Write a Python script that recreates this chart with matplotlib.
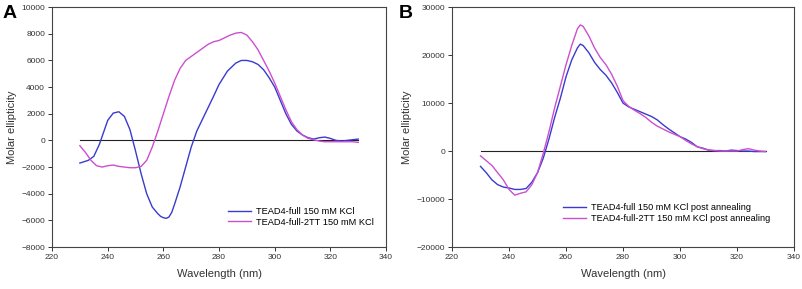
import matplotlib.pyplot as plt

plt.rcParams['font.family'] = ['Liberation Sans', 'DejaVu Sans']

# panel A data (wavelength nm, molar ellipticity)
wl_a = [230, 233, 235, 237, 240, 242, 244, 246, 248, 250, 252, 254, 256, 258, 259, 260, 261,
        262, 263, 264, 266, 268, 270, 272, 275, 278, 280, 283, 286, 288, 290, 292, 294, 296,
        298, 300, 302, 304, 306, 308, 310, 312, 314, 316, 318, 320, 322, 324, 326, 328, 330]
full_a = [-1700, -1500, -1200, -300, 1500, 2050, 2150, 1800, 800, -800, -2500, -4000, -5000,
          -5500, -5700, -5800, -5850, -5750, -5400, -4800, -3500, -2000, -500, 700, 2000, 3300,
          4200, 5200, 5800, 6000, 6000, 5900, 5700, 5300, 4700, 4000, 3000, 2000, 1200, 700,
          400, 200, 100, 200, 250, 150, 0, -50, 0, 50, 100]

wl_a2 = [230, 232, 234, 236, 238, 240, 242, 244, 246, 248, 250, 252, 254, 256, 258, 260, 262,
         264, 266, 268, 270, 272, 274, 276, 278, 280, 282, 284, 286, 288, 290, 292, 294, 296,
         298, 300, 302, 304, 306, 308, 310, 312, 314, 316, 318, 320, 322, 324, 326, 328, 330]
tt_a = [-400, -900, -1500, -1900, -2000, -1900, -1850, -1950, -2000, -2050, -2050, -1950,
        -1500, -500, 700, 2000, 3300, 4500, 5400, 6000, 6300, 6600, 6900, 7200, 7400, 7500,
        7700, 7900, 8050, 8100, 7900, 7400, 6800, 6000, 5200, 4300, 3300, 2300, 1400, 800,
        400, 150, 50, -50, -100, -100, -100, -100, -100, -100, -150]

# panel B data
wl_b = [230, 232, 234, 236, 238, 240, 242, 244, 246, 248, 250, 252, 254, 256, 258, 260, 262,
        264, 265, 266, 268, 270, 272, 274, 276, 278, 280, 282, 284, 286, 288, 290, 292, 294,
        296, 298, 300, 302, 304, 306, 308, 310, 312, 314, 316, 318, 320, 322, 324, 326, 328, 330]
full_b = [-3200, -4500, -6000, -7000, -7500, -7700, -8000, -8000, -7800, -6500, -4500, -1500,
          2500, 7000, 11000, 15500, 19000, 21500, 22300, 22000, 20500, 18500, 17000, 15800,
          14200, 12200, 10000, 9200, 8700, 8200, 7700, 7200, 6500, 5500, 4600, 3800, 3000,
          2500, 1800, 900, 600, 200, 100, 100, 0, 200, 100, 0, 0, -100, -100, -100]
tt_b = [-1000, -2000, -3000, -4500, -6000, -8000, -9200, -8800, -8500, -7000, -4500, -500,
        4000, 9000, 13500, 18000, 22000, 25500, 26300, 26000, 24000, 21500, 19500, 18000,
        16000, 13500, 10500, 9300, 8500, 7800, 7000, 6000, 5200, 4600, 4000, 3500, 3000,
        2200, 1500, 900, 500, 200, 100, 0, 0, 0, 0, 300, 500, 200, 0, -100]

blue = '#3a3ad0'
pink = '#cc4fd0'

fig = plt.figure(figsize=(8.03, 2.89), dpi=100)
ax1 = fig.add_axes([0.0648, 0.1453, 0.416, 0.830])
ax2 = fig.add_axes([0.5629, 0.1453, 0.426, 0.830])

def style(ax, ylim, yticks):
    ax.set_xlim(220, 340)
    ax.set_xticks(range(220, 341, 20))
    ax.set_ylim(*ylim)
    ax.set_yticks(yticks)
    ax.tick_params(labelsize=6, length=3, width=0.7, direction='out', pad=2, colors='#333333')
    for s in ax.spines.values():
        s.set_color('#444444')
        s.set_linewidth(0.8)
    ax.set_xlabel('Wavelength (nm)', fontsize=8, color='#333333', labelpad=6)
    ax.set_ylabel('Molar ellipticity', fontsize=8, color='#333333', labelpad=3)
    ax.plot([230, 330], [0, 0], color='#222222', lw=0.8)

style(ax1, (-8000, 10000), range(-8000, 10001, 2000))
ax1.plot(wl_a, full_a, color=blue, lw=1.0, label='TEAD4-full 150 mM KCl')
ax1.plot(wl_a2, tt_a, color=pink, lw=1.0, label='TEAD4-full-2TT 150 mM KCl')
ax1.legend(loc='lower right', bbox_to_anchor=(0.99, 0.05), fontsize=6.7, frameon=False,
           handlelength=2.5, handletextpad=0.6, labelspacing=0.2)

style(ax2, (-20000, 30000), range(-20000, 30001, 10000))
ax2.plot(wl_b, full_b, color=blue, lw=1.0, label='TEAD4-full 150 mM KCl post annealing')
ax2.plot(wl_b, tt_b, color=pink, lw=1.0, label='TEAD4-full-2TT 150 mM KCl post annealing')
ax2.legend(loc='lower left', bbox_to_anchor=(0.3, 0.065), fontsize=6.6, frameon=False,
           handlelength=2.5, handletextpad=0.6, labelspacing=0.2)

fig.text(0.003, 0.955, 'A', fontsize=14, fontweight='bold', va='center', ha='left')
fig.text(0.497, 0.955, 'B', fontsize=14, fontweight='bold', va='center', ha='left')

fig.savefig('out.png', dpi=100)
